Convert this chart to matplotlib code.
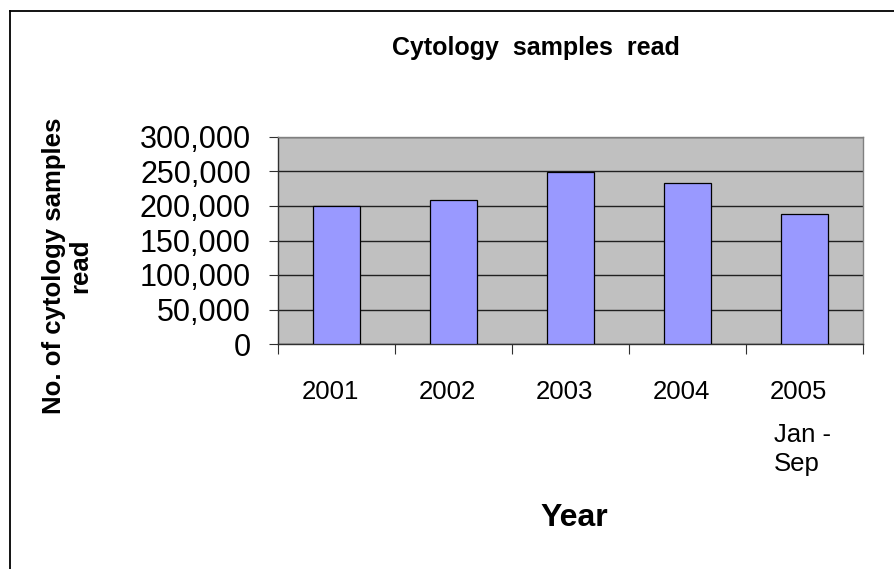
import numpy as np
import matplotlib.pyplot as plt
import matplotlib.transforms as mtransforms
from matplotlib.lines import Line2D

# data
years = ["2001", "2002", "2003", "2004", "2005"]
sub_labels = ["", "", "", "", "Jan -\nSep"]
samples = [200000, 209000, 249000, 234000, 188000]
y_ticks = [0, 50000, 100000, 150000, 200000, 250000, 300000]

plt.rcParams['font.family'] = ['Liberation Sans', 'DejaVu Sans']

W, H = 894, 569
fig = plt.figure(figsize=(W / 100, H / 100), dpi=100)
fig.patch.set_facecolor('white')

# plot area in pixels
left, right, top, bottom = 278, 863, 137, 344
ax = fig.add_axes([left / W, 1 - bottom / H, (right - left) / W, (bottom - top) / H])
ax.set_facecolor('#C0C0C0')

x = np.arange(len(years))
ax.bar(x, samples, width=0.41, color='#9999FF', edgecolor='black', linewidth=0.9, zorder=3)

ax.set_xlim(-0.5, len(years) - 0.5)
ax.set_ylim(0, 300000)
ax.set_yticks(y_ticks)
ax.set_yticklabels([f"{v:,}" for v in y_ticks], fontsize=22)
ax.yaxis.grid(True, color='#202020', linewidth=1.0, zorder=1)
ax.set_axisbelow(True)

# ticks at category boundaries, labels at centres
ax.set_xticks(np.arange(len(years) + 1) - 0.5)
ax.set_xticklabels([])
ax.set_xticks(x, minor=True)
ax.set_xticklabels(years, minor=True, fontsize=18.5)
ax.tick_params(axis='x', which='major', direction='out', length=7.5, width=0.8, color='#303030')
ax.tick_params(axis='x', which='minor', length=0, pad=26)
ax.tick_params(axis='y', direction='out', length=6.5, width=0.8, color='#303030', pad=13)

shift = mtransforms.ScaledTranslation(-6 / 100, 0, fig.dpi_scale_trans)
for lab in ax.get_xticklabels(minor=True):
    lab.set_transform(lab.get_transform() + shift)

for xi, s in zip(x, sub_labels):
    if s:
        ax.text(xi - 0.26, -0.38, s, transform=ax.get_xaxis_transform(), fontsize=18.5,
                ha='left', va='top', linespacing=1.3)

for side in ['left', 'bottom']:
    ax.spines[side].set_color('#303030')
    ax.spines[side].set_linewidth(1.0)
for side in ['top', 'right']:
    ax.spines[side].set_color('#808080')
    ax.spines[side].set_linewidth(1.0)

fig.text(536 / W, 1 - 48 / H, "Cytology  samples  read", fontsize=18, fontweight='bold',
         ha='center', va='center')
fig.text(574 / W, 1 - 518 / H, "Year", fontsize=23, fontweight='bold', ha='center', va='center')
fig.text(67 / W, 1 - 266 / H, "No. of cytology samples\nread", fontsize=18.5, fontweight='bold',
         rotation=90, ha='center', va='center', linespacing=1.15)

# chart border (partly cut off on right and bottom)
fig.add_artist(Line2D([10 / W, 10 / W], [0, 1 - 11 / H], color='black', linewidth=1.3))
fig.add_artist(Line2D([10 / W, 1], [1 - 11 / H, 1 - 11 / H], color='black', linewidth=1.3))

fig.savefig('out.png', dpi=100)
